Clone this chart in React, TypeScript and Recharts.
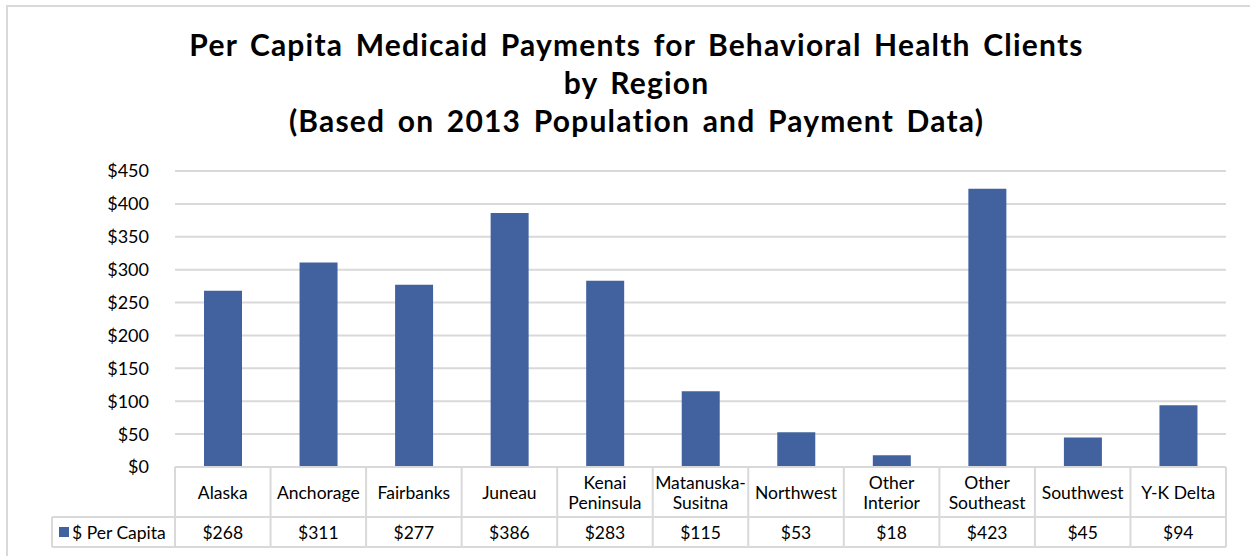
import React from "react";
import { BarChart, Bar, XAxis, YAxis, CartesianGrid } from "recharts";

const regions = [
  "Alaska",
  "Anchorage",
  "Fairbanks",
  "Juneau",
  "Kenai Peninsula",
  "Matanuska-Susitna",
  "Northwest",
  "Other Interior",
  "Other Southeast",
  "Southwest",
  "Y-K Delta",
];
const perCapita = [268, 311, 277, 386, 283, 115, 53, 18, 423, 45, 94];
const yTicks = [0, 50, 100, 150, 200, 250, 300, 350, 400, 450];
const seriesName = "$ Per Capita";
const titleLines = [
  "Per Capita Medicaid Payments for Behavioral Health Clients",
  "by Region",
  "(Based on 2013 Population and Payment Data)",
];

const data = regions.map((region, i) => ({ region, value: perCapita[i] }));

const BAR = "#41629f";
const LINE = "#d9d9d9";
const FONT = "Lato, 'Open Sans', sans-serif";
const TXT = 17.5;

const W = 1250;
const H = 556;
const MARGIN = { top: 171, right: 24, left: 115, bottom: 9 };
const Y_AXIS_W = 60;
const PLOT_W = W - MARGIN.left - MARGIN.right - Y_AXIS_W;
const CELL_W = PLOT_W / regions.length;
const ROW1 = 50;
const ROW2 = 30;
const LEGEND_X = 52;

// split long names onto two lines like the excel data table does
function wrap(name: string): string[] {
  if (name.length <= 10) return [name];
  const dash = name.indexOf("-");
  if (dash > 0 && dash < name.length - 1 && name.indexOf(" ") < 0) {
    return [name.slice(0, dash + 1), name.slice(dash + 1)];
  }
  const sp = name.indexOf(" ");
  return [name.slice(0, sp), name.slice(sp + 1)];
}

function TableTick(props: any) {
  const { x, y, payload } = props;
  const i = payload.index;
  const x0 = x - CELL_W / 2;
  const x1 = x + CELL_W / 2;
  const lines = wrap(String(payload.value));
  const midY = y + ROW1 / 2;
  return (
    <g>
      <line x1={x0} y1={y} x2={x1} y2={y} stroke={LINE} strokeWidth={2} />
      <line x1={x0} y1={y + ROW1} x2={x1} y2={y + ROW1} stroke={LINE} strokeWidth={2} />
      <line x1={x0} y1={y + ROW1 + ROW2} x2={x1} y2={y + ROW1 + ROW2} stroke={LINE} strokeWidth={2} />
      <line x1={x0} y1={y} x2={x0} y2={y + ROW1 + ROW2} stroke={LINE} strokeWidth={2} />
      {i === regions.length - 1 && (
        <line x1={x1} y1={y} x2={x1} y2={y + ROW1 + ROW2} stroke={LINE} strokeWidth={2} />
      )}
      {lines.map((l, k) => (
        <text
          key={k}
          x={x}
          y={midY + (k - (lines.length - 1) / 2) * 20}
          textAnchor="middle"
          dominantBaseline="central"
          fontSize={TXT}
          fontFamily={FONT}
          fill="#000"
        >
          {l}
        </text>
      ))}
      <text
        x={x}
        y={y + ROW1 + ROW2 / 2}
        textAnchor="middle"
        dominantBaseline="central"
        fontSize={TXT}
        fontFamily={FONT}
        fill="#000"
      >
        {"$" + perCapita[i]}
      </text>
      {i === 0 && (
        <g>
          <line x1={LEGEND_X} y1={y + ROW1} x2={x0} y2={y + ROW1} stroke={LINE} strokeWidth={2} />
          <line x1={LEGEND_X} y1={y + ROW1 + ROW2} x2={x0} y2={y + ROW1 + ROW2} stroke={LINE} strokeWidth={2} />
          <line x1={LEGEND_X} y1={y + ROW1} x2={LEGEND_X} y2={y + ROW1 + ROW2} stroke={LINE} strokeWidth={2} />
          <rect x={LEGEND_X + 7} y={y + ROW1 + 10} width={10} height={10} fill={BAR} />
          <text
            x={LEGEND_X + 20}
            y={y + ROW1 + ROW2 / 2}
            dominantBaseline="central"
            fontSize={TXT}
            fontFamily={FONT}
            fill="#000"
          >
            {seriesName}
          </text>
        </g>
      )}
    </g>
  );
}

export default function App() {
  return (
    <div style={{ position: "absolute", left: 0, top: 0, width: W, height: H, overflow: "hidden", background: "#fff" }}>
      <div
        style={{
          position: "absolute",
          left: 6,
          top: 5,
          width: W + 20,
          height: H + 20,
          border: `2px solid ${LINE}`,
        }}
      />
      <div
        style={{
          position: "absolute",
          left: 0,
          top: 25,
          width: 1273,
          textAlign: "center",
          fontFamily: FONT,
          fontWeight: 700,
          fontSize: 30,
          letterSpacing: 1.2,
          wordSpacing: 4,
          lineHeight: "38px",
          color: "#000",
        }}
      >
        {titleLines.map((t) => (
          <div key={t}>{t}</div>
        ))}
      </div>
      <BarChart width={W} height={H} data={data} margin={MARGIN} style={{ position: "absolute", left: 0, top: 0 }}>
        <CartesianGrid vertical={false} stroke={LINE} strokeWidth={2} />
        <XAxis
          dataKey="region"
          interval={0}
          height={80}
          tickSize={0}
          tickMargin={0}
          axisLine={false}
          tickLine={false}
          tick={<TableTick />}
        />
        <YAxis
          width={Y_AXIS_W}
          domain={[0, 450]}
          ticks={yTicks}
          tickFormatter={(v: number) => "$" + v}
          axisLine={false}
          tickLine={false}
          tickSize={0}
          tickMargin={26}
          tick={{ fontSize: 18, fontFamily: FONT, fill: "#000" }}
        />
        <Bar dataKey="value" fill={BAR} barSize={38} isAnimationActive={false} />
      </BarChart>
    </div>
  );
}
